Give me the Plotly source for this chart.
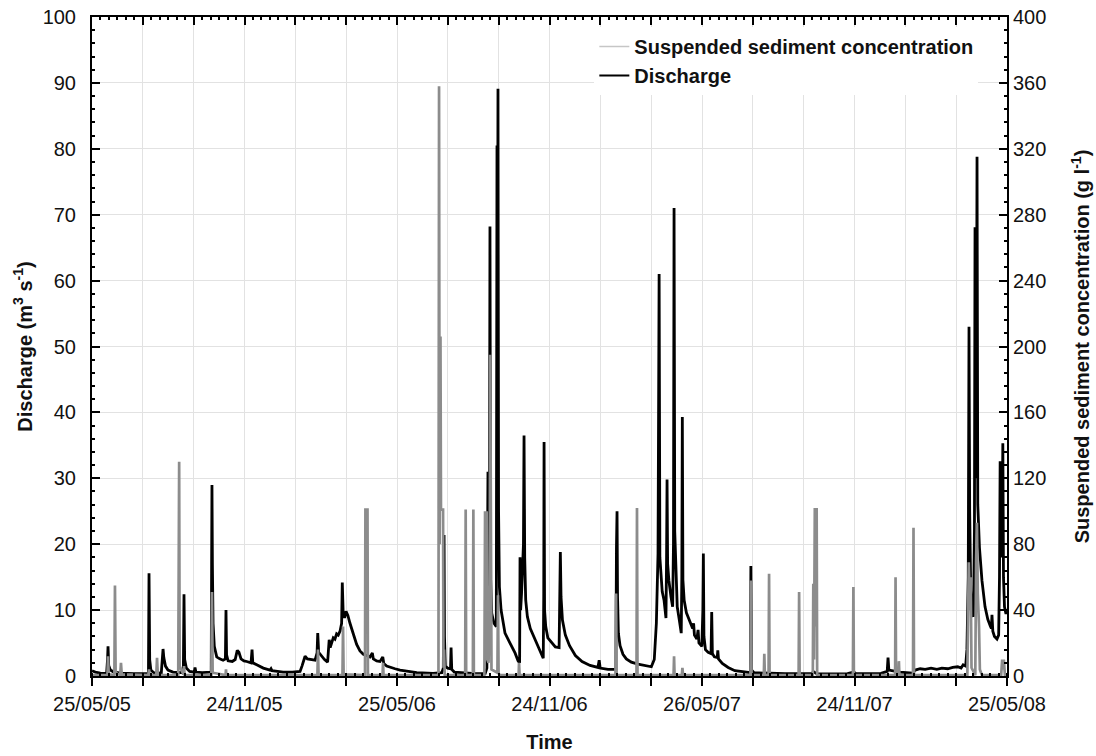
import pandas as pd
import plotly.graph_objects as go

# ---- Record period -------------------------------------------------------
start_date = "2005-05-25"
span_days = 1096  # 25/05/05 -> 25/05/08

date_labels = ["25/05/05", "24/11/05", "25/05/06", "24/11/06",
               "26/05/07", "24/11/07", "25/05/08"]

# ---- Discharge (m3 s-1): day offset from start, value --------------------
q_days = [
    0, 4, 10, 17.5, 18.6, 19.2, 20, 22, 26, 35, 50, 67.6, 68.3, 69.1, 70.5, 74,
    83, 84.4, 85.1, 86, 88, 91, 97, 109.4, 110.2, 111, 113, 117, 122.5, 123.4,
    124.4, 132, 142.8, 143.3, 143.7, 144.2, 145, 146.5, 149.4, 153, 157, 159.8,
    160.5, 161.2, 163, 168, 171.5, 174, 176, 178.5, 182, 185.3, 190.5, 191.7,
    192.6, 197.3, 205.2, 213.2, 214.4, 215.6, 229, 240, 249.2, 251.5, 255.2,
    258, 261.2, 267.2, 269.6, 270.4, 271.5, 275.2, 278.5, 282.2, 284.1, 285.3,
    287.5, 289, 291, 293, 295, 297.1, 299, 299.8, 300.8, 302.5, 304.3, 306.5,
    309, 311, 314, 317, 321, 325, 329, 333, 335.8, 337, 341, 345, 348.3, 349.5,
    353, 357, 363, 369, 380, 389, 408.5, 419, 420.8, 421.3, 421.7, 422.2,
    423.2, 426, 429.4, 430.1, 430.9, 434, 442, 455, 466, 471, 473, 473.7,
    474.3, 475.1, 476.1, 476.7, 477.5, 478.8, 481.5, 484.3, 484.8, 485.1,
    485.6, 486.3, 487, 488, 490, 494.7, 500.7, 506.7, 510.3, 512.2, 512.7,
    513.4, 514.5, 516.8, 517.5, 518.3, 519.5, 521.5, 525, 530.7, 536.7, 540.5,
    541.1, 541.5, 542.1, 543.5, 546, 550, 555, 559.5, 560.3, 561, 561.8, 563.5,
    567, 572, 579, 587, 596.6, 606, 607.5, 608.7, 618, 627.5, 628.2, 628.9,
    629.5, 630.5, 632.5, 636, 640, 646, 654, 662, 670, 673.5, 676, 678, 679.3,
    680.2, 681.2, 683, 685.2, 687.5, 688.2, 688.8, 689.5, 691, 693.5, 695.5,
    696.5, 697.2, 698, 699.5, 701, 703.5, 705.8, 706.5, 707.1, 707.8, 709.3,
    712, 716, 719.5, 720.6, 721.6, 724.5, 726, 727, 730.5, 731.7, 732.3, 733,
    734.8, 738, 741.5, 742.3, 743.1, 745.5, 748.9, 749.6, 750.4, 755, 762, 770,
    782, 788.6, 789.2, 790, 793, 812, 830, 848, 862, 865, 868, 884, 905, 912.5,
    915, 932, 945, 952.5, 953.5, 954.5, 960, 968, 983, 986, 992, 998, 1005,
    1012, 1018, 1025, 1031, 1037, 1041, 1043.5, 1046.5, 1048, 1049.6, 1050.5,
    1051.3, 1052.5, 1054, 1055.8, 1057, 1057.7, 1058.5, 1059.3, 1060.1, 1061,
    1063, 1066, 1069.7, 1073, 1076, 1077.3, 1078, 1079, 1081, 1084, 1086, 1087,
    1087.8, 1088.7, 1090.2, 1091, 1091.8, 1093, 1094.5, 1096,
]
q_values = [
    0.8, 0.6, 0.45, 0.4, 2.5, 4.5, 1.6, 0.9, 0.6, 0.45, 0.35, 0.35, 15.6, 2.5,
    0.9, 0.5, 0.45, 2.5, 4.1, 2.8, 1.5, 0.9, 0.6, 0.5, 12.4, 2.5, 1.2, 0.7, 0.6,
    1.3, 0.6, 0.5, 0.6, 17.0, 29.0, 17.0, 8.0, 4.5, 2.9, 2.6, 2.4, 2.6, 10.0,
    3.2, 2.3, 2.2, 2.5, 3.9, 3.6, 2.6, 2.3, 2.2, 2.0, 4.0, 2.0, 1.7, 1.2, 0.9,
    1.1, 0.8, 0.6, 0.6, 0.7, 1.5, 3.0, 2.6, 2.5, 2.4, 3.5, 6.5, 3.6, 3.0, 2.5,
    2.1, 5.5, 4.3, 5.2, 5.8, 5.6, 6.4, 6.2, 6.8, 8.0, 14.2, 9.8, 8.8, 9.8, 9.2,
    8.0, 7.3, 6.0, 4.8, 3.8, 3.3, 3.1, 2.9, 3.5, 2.6, 2.3, 2.2, 2.9, 1.9, 1.5,
    1.3, 1.1, 0.9, 0.7, 0.5, 0.4, 0.5, 1.2, 15.0, 21.4, 6.0, 1.5, 1.2, 1.1, 4.3,
    1.0, 0.6, 0.5, 0.4, 0.35, 0.4, 1.2, 12.0, 31.0, 10.0, 25.0, 68.2, 14.6, 9.5,
    8.0, 7.5, 30.0, 80.5, 45.0, 89.1, 25.0, 13.5, 10.0, 6.5, 5.0, 3.5, 2.3, 2.0,
    18.0, 10.0, 12.5, 20.0, 36.5, 18.0, 11.5, 9.0, 7.2, 5.5, 3.6, 2.7, 12.0,
    35.5, 10.0, 7.5, 5.8, 5.2, 4.4, 4.3, 12.0, 18.8, 12.0, 8.5, 6.2, 4.6, 3.1,
    2.2, 1.6, 1.3, 2.4, 1.2, 1.0, 1.0, 19.5, 25.0, 12.0, 6.5, 4.6, 3.3, 2.6,
    2.1, 1.8, 1.6, 1.4, 2.5, 8.0, 18.6, 61.0, 18.0, 15.6, 12.8, 11.5, 8.8, 17.6,
    29.8, 17.0, 14.5, 12.0, 10.5, 20.0, 71.0, 22.0, 14.0, 10.5, 8.5, 6.5, 15.0,
    39.3, 14.6, 11.5, 9.6, 8.2, 7.2, 8.0, 6.2, 5.6, 7.0, 5.0, 4.5, 10.0, 18.6,
    6.0, 4.0, 3.6, 3.4, 9.7, 3.4, 2.9, 2.8, 3.9, 2.6, 1.9, 1.3, 0.8, 0.55, 0.5,
    16.7, 0.9, 0.5, 0.4, 0.35, 0.35, 0.4, 0.6, 0.35, 0.3, 0.35, 0.6, 0.35, 0.35,
    0.4, 0.7, 2.8, 0.9, 0.8, 0.6, 0.45, 0.9, 1.1, 1.0, 1.2, 1.0, 1.2, 1.1, 1.3,
    1.4, 1.2, 1.7, 1.5, 4.0, 15.0, 53.0, 25.0, 13.0, 9.5, 9.0, 22.0, 68.1, 30.0,
    40.0, 78.8, 26.0, 19.5, 14.5, 10.5, 8.6, 7.6, 7.2, 9.3, 6.8, 6.0, 5.6, 6.2,
    15.0, 32.6, 18.0, 22.0, 35.3, 15.0, 10.5, 9.6, 9.6,
]

# ---- Suspended sediment concentration (g l-1) ----------------------------
ssc_days = [
    0, 18.5, 19.2, 20, 26.8, 27.5, 28.3, 33.8, 34.7, 35.6, 67.5, 68.3, 69,
    77, 77.9, 78.8, 103.3, 104, 104.4, 105, 109.5, 110.2, 111, 143, 143.7,
    144.5, 160, 160.5, 161, 270, 270.7, 271.4, 300, 300.7, 301.4, 327, 327.5,
    330, 330.5, 348, 348.6, 349.2, 415, 415.7, 416.4, 417.4, 418, 420.5, 421,
    421.7, 422.5, 447, 447.6, 448.2, 456.2, 456.8, 457.4, 470, 470.8, 471.8,
    472.7, 473.5, 475, 476.3, 477, 477.7, 478.5, 485.6, 486.3, 487, 488, 511,
    511.5, 512.2, 627, 627.7, 628.4, 652.2, 652.8, 653.4, 696.6, 697.2, 697.8,
    706.5, 707.2, 708, 788.7, 789.3, 790, 804.7, 805.3, 806, 810.4, 811, 811.6,
    846.4, 847, 847.6, 863.4, 864, 864.8, 865.8, 867, 868, 868.6, 911.4, 912,
    912.6, 962, 962.5, 963.1, 966, 966.5, 967.1, 983.4, 984, 984.6, 1048.5,
    1049.3, 1050.2, 1051.5, 1052.5, 1053.5, 1058, 1059, 1060, 1061, 1062.5,
    1063.5, 1066, 1089, 1090.2, 1091, 1092.2, 1093.5, 1096,
]
ssc_values = [
    0.5, 0.5, 12, 1, 0.5, 55, 2, 0.5, 8, 1, 0.5, 4, 0.5,
    0.5, 11, 0.5, 0.5, 112, 130, 6, 1, 6, 0.5, 0.5, 51,
    2, 0.5, 4, 0.5, 0.5, 16, 0.5, 0.5, 30, 1, 0.5, 101,
    101, 0.5, 0.5, 8, 0.5, 0.5, 358, 80, 206, 101, 101, 5,
    16, 0.5, 0.5, 101, 0.5, 0.5, 101, 0.5, 0.5, 100, 20,
    100, 10, 8, 40, 195, 30, 4, 2, 49, 2, 0.5, 0.5,
    8, 0.5, 0.5, 50, 0.5, 0.5, 102, 0.5, 0.5, 12, 0.5,
    0.5, 5, 0.5, 0.5, 58, 0.5, 0.5, 13.5, 0.5, 0.5, 62, 0.5,
    0.5, 51, 0.5, 0.5, 56, 10, 102, 30, 102, 0.5, 0.5, 54,
    0.5, 0.5, 60, 0.5, 0.5, 9, 0.5, 0.5, 90, 0.5, 0.5,
    50, 69, 40, 60, 5, 0.5, 70, 93, 50, 30,
    4, 0.5, 0.5, 10, 4, 10, 0.5, 0.5,
]

# ---- Build time stamps and tick positions ----------------------------------
t0 = pd.Timestamp(start_date)
q_time = t0 + pd.to_timedelta(q_days, unit="D")
ssc_time = t0 + pd.to_timedelta(ssc_days, unit="D")
t_end = t0 + pd.Timedelta(days=span_days)

n_major = 18          # major ticks; every third one carries a date label
n_minor_per_major = 6
major_ticks = [t0 + pd.Timedelta(days=span_days * k / n_major) for k in range(n_major + 1)]
label_ticks = major_ticks[::3]
minor_ticks = [t0 + pd.Timedelta(days=span_days * k / (n_major * n_minor_per_major))
               for k in range(n_major * n_minor_per_major + 1)]

FONT = "Liberation Sans, Arial, Helvetica, sans-serif"
GRID = "#e2e2e2"
SSC_GREY = "#8c8c8c"

fig = go.Figure()

# Discharge on the left axis
fig.add_trace(go.Scatter(
    x=q_time, y=q_values, mode="lines",
    line=dict(color="black", width=2.8),
    showlegend=False, xaxis="x", yaxis="y",
))

# Suspended sediment concentration on the right axis (drawn above discharge)
fig.add_trace(go.Scatter(
    x=ssc_time, y=ssc_values, mode="lines",
    line=dict(color=SSC_GREY, width=2.7),
    showlegend=False, xaxis="x2", yaxis="y2",
))

# Legend entries (attached to the labelled date axis)
fig.add_trace(go.Scatter(
    x=[None], y=[None], mode="lines",
    line=dict(color="#c6c6c6", width=1.5),
    name="<b>Suspended sediment concentration</b>",
    xaxis="x3", yaxis="y",
))
fig.add_trace(go.Scatter(
    x=[None], y=[None], mode="lines",
    line=dict(color="black", width=2),
    name="<b>Discharge</b>",
    xaxis="x3", yaxis="y",
))

tick_style = dict(tickcolor="black", tickwidth=2, linecolor="black", linewidth=2,
                  showline=True, zeroline=False)
minor_x = dict(tickmode="array", tickvals=minor_ticks, ticks="inside",
               ticklen=3, tickwidth=2, tickcolor="black", showgrid=False)

fig.update_layout(
    width=1096, height=756,
    margin=dict(l=92, r=89, t=17, b=80),
    paper_bgcolor="white", plot_bgcolor="white",
    font=dict(family=FONT, size=20, color="#111111"),
    showlegend=True,
    legend=dict(
        x=0.549, y=0.985, xanchor="left", yanchor="top",
        bgcolor="white", borderwidth=0,
        font=dict(family=FONT, size=20, color="#111111"),
        itemwidth=30, traceorder="normal", tracegroupgap=0,
    ),
    # bottom axis: all major ticks, grid and minor ticks
    xaxis=dict(
        type="date", range=[t0, t_end],
        tickmode="array", tickvals=major_ticks, showticklabels=False,
        ticks="outside", ticklen=8,
        showgrid=True, gridcolor=GRID, gridwidth=1,
        minor=minor_x,
        automargin=False,
        **tick_style,
    ),
    # top mirror axis
    xaxis2=dict(
        type="date", range=[t0, t_end], overlaying="x", side="top", anchor="y2",
        tickmode="array", tickvals=major_ticks, showticklabels=False,
        ticks="inside", ticklen=8,
        showgrid=False, minor=minor_x,
        automargin=False,
        **tick_style,
    ),
    # date labels and axis title
    xaxis3=dict(
        type="date", range=[t0, t_end], overlaying="x", side="bottom", anchor="y",
        tickmode="array", tickvals=label_ticks, ticktext=date_labels,
        ticks="outside", ticklen=8, ticklabelstandoff=1,
        showgrid=False,
        tickfont=dict(size=20),
        title=dict(text="<b>Time</b>", font=dict(size=20), standoff=21),
        automargin=False,
        **tick_style,
    ),
    yaxis=dict(
        range=[0, 100], tickmode="linear", tick0=0, dtick=10,
        ticks="inside", ticklen=8, ticklabelstandoff=10,
        showgrid=True, gridcolor=GRID, gridwidth=1,
        minor=dict(dtick=2, ticks="inside", ticklen=3, tickwidth=2,
                   tickcolor="black", showgrid=False),
        tickfont=dict(size=20),
        title=dict(text="<b>Discharge (m<sup>3</sup> s<sup>-1</sup>)</b>",
                   font=dict(size=20), standoff=5),
        automargin=False,
        **tick_style,
    ),
    yaxis2=dict(
        range=[0, 400], tickmode="linear", tick0=0, dtick=40,
        overlaying="y", side="right", anchor="x2",
        ticks="inside", ticklen=8, ticklabelstandoff=0,
        showgrid=False,
        minor=dict(dtick=8, ticks="inside", ticklen=3, tickwidth=2,
                   tickcolor="black", showgrid=False),
        tickfont=dict(size=20),
        title=dict(text="<b>Suspended sediment concentration (g l<sup>-1</sup>)</b>",
                   font=dict(size=20), standoff=30),
        automargin=False,
        **tick_style,
    ),
)

fig.write_html("out.html")
